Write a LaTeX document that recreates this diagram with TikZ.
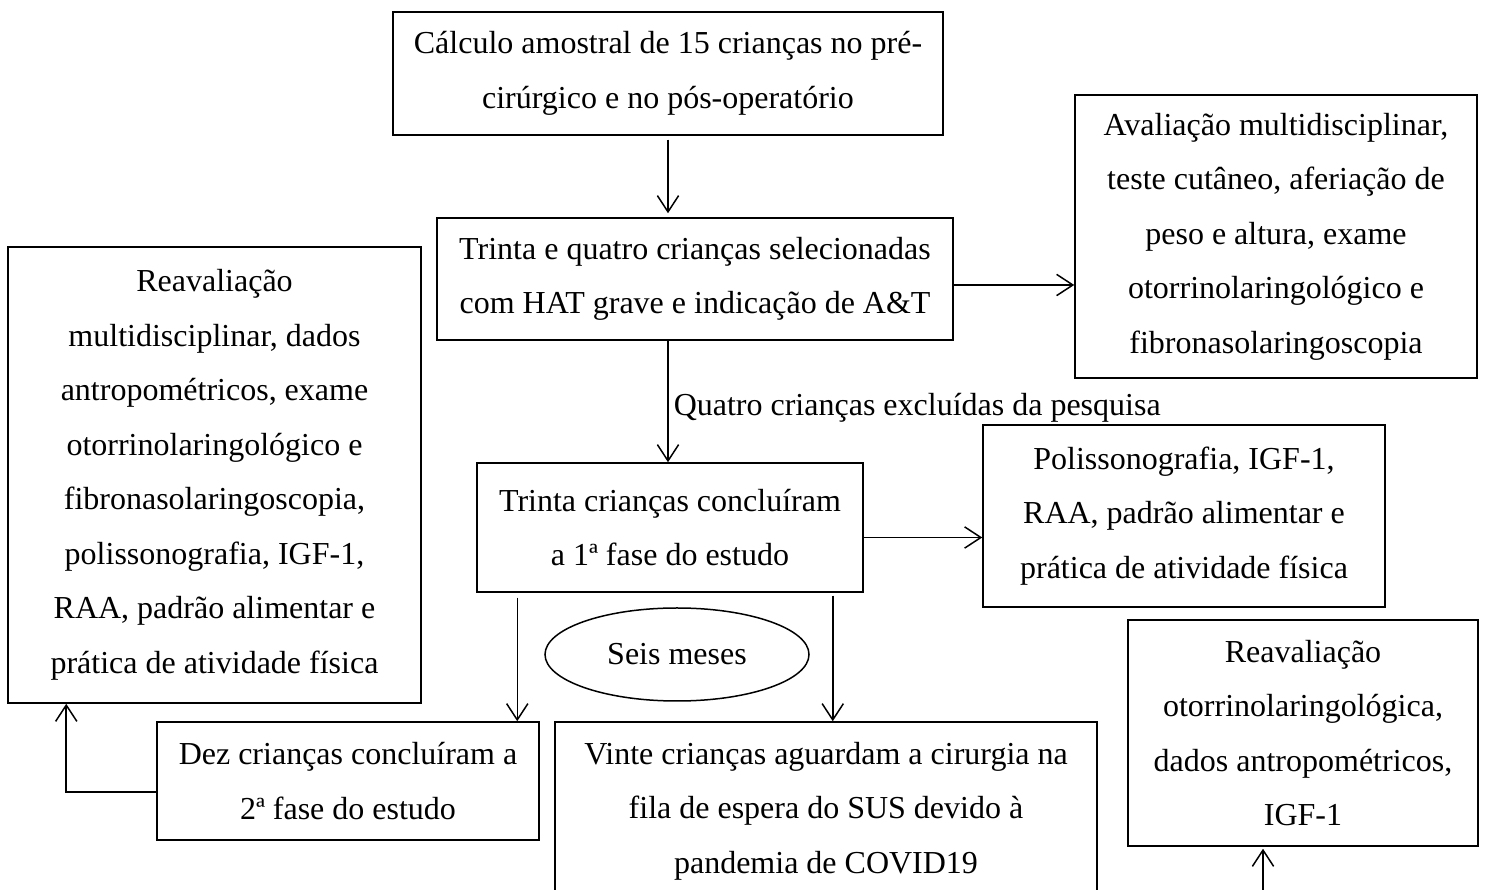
\documentclass[tikz,border=0pt]{standalone}
\usepackage{fontspec}
\setmainfont{Liberation Serif}
\usetikzlibrary{calc,arrows.meta,shapes.geometric}

\begin{document}
\begin{tikzpicture}[x=0.4pt,y=-0.4pt,>={Straight Barb[length=6.5pt,width=8.5pt]},
  box/.style={draw,line width=0.6pt,inner sep=0pt,align=center,
    font=\fontsize{12.8}{21.8}\selectfont},
  arr/.style={->,line width=0.6pt}]
  \clip (0,0) rectangle (1485,890);
  % boxes
  \node[box,minimum width=220pt,minimum height=49.2pt] (calc) at (668,73.5)
    {Cálculo amostral de 15 crianças no pré-\\cirúrgico e no pós-operatório};
  \node[box,minimum width=206.4pt,minimum height=48.8pt] (quatro) at (695,279)
    {Trinta e quatro crianças selecionadas\\com HAT grave e indicação de A\&T};
  \node[box,minimum width=160.8pt,minimum height=113.2pt] (aval) at (1276,236.5)
    {Avaliação multidisciplinar,\\teste cutâneo, aferiação de\\peso e altura, exame\\otorrinolaringológico e\\fibronasolaringoscopia};
  \node[box,minimum width=165.2pt,minimum height=182.4pt] (reav) at (214.5,475)
    {Reavaliação\\multidisciplinar, dados\\antropométricos, exame\\otorrinolaringológico e\\fibronasolaringoscopia,\\polissonografia, IGF-1,\\RAA, padrão alimentar e\\prática de atividade física};
  \node[box,minimum width=154.4pt,minimum height=51.6pt] (trinta) at (670,527.5)
    {Trinta crianças concluíram\\a 1ª fase do estudo};
  \node[box,minimum width=160.8pt,minimum height=72.8pt] (poliss) at (1184,516)
    {Polissonografia, IGF-1,\\RAA, padrão alimentar e\\prática de atividade física};
  \node[box,ellipse,minimum width=105.6pt,minimum height=37.2pt] (seis) at (677,654.5)
    {Seis meses};
  \node[box,minimum width=152.8pt,minimum height=47.2pt] (dez) at (348,781)
    {Dez crianças concluíram a\\2ª fase do estudo};
  \node[box,minimum width=216.8pt,minimum height=71.2pt] (vinte) at (826,811)
    {Vinte crianças aguardam a cirurgia na\\fila de espera do SUS devido à\\pandemia de COVID19};
  \node[box,minimum width=140pt,minimum height=90.4pt] (reavr) at (1303,733)
    {Reavaliação\\otorrinolaringológica,\\dados antropométricos,\\IGF-1};
  \coordinate (rin) at (1263,900);
  % connectors
  \draw[arr,shorten <=1.6pt,shorten >=1.6pt] (calc.south) -- (calc.south |- quatro.north);
  \draw[arr] ([yshift=-2.4pt]quatro.east) -- ([yshift=-2.4pt]quatro.east -| aval.west);
  \draw[arr] (calc.south |- quatro.south) -- (calc.south |- trinta.north)
    node[pos=0.55,right,inner sep=2pt,font=\fontsize{12.8}{14}\selectfont]{Quatro crianças excluídas da pesquisa};
  \draw[arr] ([yshift=-4pt]trinta.east) -- ([yshift=-4pt]trinta.east -| poliss.west);
  \draw[arr,shorten <=2pt] ([xshift=16.4pt]trinta.south west) -- ([xshift=16.4pt]trinta.south west |- dez.north);
  \draw[arr,shorten <=1.2pt] ([xshift=-12.4pt]trinta.south east) -- ([xshift=-12.4pt]trinta.south east |- vinte.north);
  \draw[arr] ([yshift=-4.4pt]dez.west) -| ([xshift=23.6pt]reav.south west);
  \draw[arr,shorten >=0.8pt] (rin) -- (rin |- reavr.south);
\end{tikzpicture}
\end{document}
